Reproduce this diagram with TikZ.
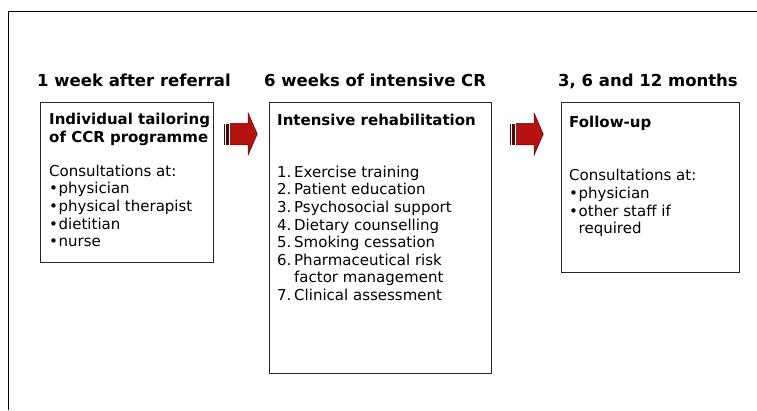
\documentclass[tikz,border=0pt]{standalone}
\usepackage{fontspec}
\setmainfont{DejaVu Sans}
\usetikzlibrary{shapes.arrows, positioning}
\definecolor{pil}{HTML}{B5120F}
\definecolor{pilrand}{HTML}{4A0808}
\newcommand{\blt}{\makebox[9.5pt][l]{•}}
\newcommand{\nr}[1]{\makebox[17pt][l]{#1}}

\begin{document}
\begin{tikzpicture}[x=1pt, y=-1pt,
      kop/.style={font=\fontsize{16.5}{19}\selectfont\bfseries,
                  inner sep=0pt, anchor=base west},
      fase/.style={draw=black!85, line width=0.9pt, anchor=north west,
                   inner sep=0pt},
      inhoud/.style={font=\fontsize{15}{17.6}\selectfont, align=left,
                     inner sep=0pt, anchor=north west},
      pijl/.style={single arrow, fill=pil, draw=pilrand, line width=0.5pt,
                   inner xsep=0pt, inner ysep=10.5pt,
                   single arrow head extend=10pt, single arrow tip angle=133,
                   minimum height=27pt, anchor=tail},
      streep/.style={fill=pilrand} ]

    \useasboundingbox (0,0) rectangle (757,410);

    % frame
    \draw[line width=0.8pt] (8,410) -- (8,11) -- (757,11);

    % headings
    \node[kop] (h1) at (37,86)  {1 week after referral};
    \node[kop] (h2) at (264,86) {6 weeks of intensive CR};
    \node[kop] (h3) at (558,86) {3, 6 and 12 months};

    % boxes
    \node[fase, minimum width=173pt, minimum height=160pt] (b1) at (40,102) {};
    \node[fase, minimum width=222pt, minimum height=271pt] (b2) at (269,102) {};
    \node[fase, minimum width=178pt, minimum height=170pt] (b3) at (561,102) {};

    \node[inhoud] (t1) at ([shift={(9,11)}]b1.north west)
      {\textbf{Individual tailoring}\\ \textbf{of CCR programme}\\[16.4pt]
       Consultations at:\\ \blt physician\\ \blt physical therapist\\
       \blt dietitian\\ \blt nurse};
    \node[inhoud] (t2) at ([shift={(8,12)}]b2.north west)
      {\textbf{Intensive rehabilitation}\\[34pt]
       \nr{1.}Exercise training\\ \nr{2.}Patient education\\
       \nr{3.}Psychosocial support\\ \nr{4.}Dietary counselling\\
       \nr{5.}Smoking cessation\\ \nr{6.}Pharmaceutical risk\\
       \nr{}factor management\\ \nr{7.}Clinical assessment};
    \node[inhoud] (t3) at ([shift={(8,14)}]b3.north west)
      {\textbf{Follow-up}\\[35.7pt]
       Consultations at:\\ \blt physician\\ \blt other staff if\\
       \makebox[9.5pt]{}required};

    % arrows
    \node[pijl] (a1) at (230,134) {};
    \node[pijl] (a2) at (516,134) {};
    \foreach \a in {a1, a2} {
      \fill[streep] ([xshift=-6.5pt, yshift=-10.5pt]\a.tail)
        rectangle ([xshift=-4.8pt, yshift=10.5pt]\a.tail);
      \fill[streep] ([xshift=-3.6pt, yshift=-10.5pt]\a.tail)
        rectangle ([xshift=-0.8pt, yshift=10.5pt]\a.tail);
    }
\end{tikzpicture}
\end{document}
